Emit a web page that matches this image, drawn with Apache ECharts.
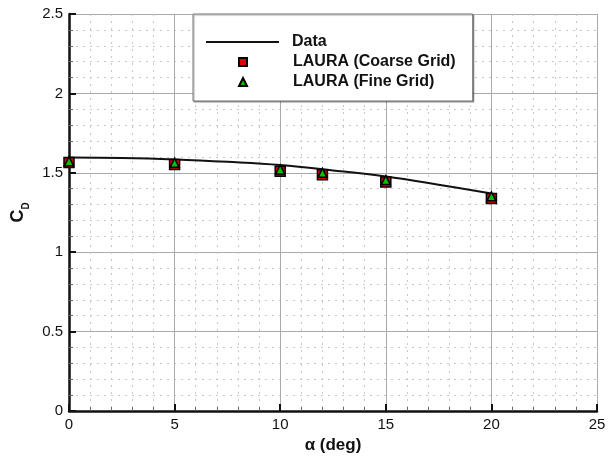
<!DOCTYPE html>
<html>
<head>
<meta charset="utf-8">
<style>html,body{margin:0;padding:0;background:#fff;}#c{width:613px;height:463px;}</style>
<script src="https://cdn.jsdelivr.net/npm/echarts@6/dist/echarts.min.js"></script>
</head>
<body>
<div id="c"></div>
<script>
const dataAlpha = [0, 2.5, 5, 7.5, 10, 12.5, 15, 17.5, 20];
const dataCD = [1.596, 1.593, 1.584, 1.569, 1.549, 1.515, 1.476, 1.425, 1.370];
const coarseAlpha = [0, 5, 10, 12, 15, 20];
const coarseCD = [1.565, 1.553, 1.510, 1.488, 1.442, 1.338];
const fineAlpha = [0, 5, 10, 12, 15, 20];
const fineCD = [1.573, 1.563, 1.521, 1.500, 1.454, 1.352];
const seriesNames = ['Data', 'LAURA (Coarse Grid)', 'LAURA (Fine Grid)'];

const zip = (a, b) => a.map((v, i) => [v, b[i]]);
const font = 'Liberation Sans, Arial, sans-serif';
const legendText = {fontFamily: font, fontWeight: 'bold', fontSize: 16, color: '#111'};

const chart = echarts.init(document.getElementById('c'), null, {renderer: 'canvas'});
chart.setOption({
  animation: false,
  backgroundColor: '#fff',
  grid: {left: 69, right: 16, top: 14, bottom: 52, containLabel: false},
  legend: [
    {
      data: [{name: seriesNames[1], icon: 'rect'}, {name: seriesNames[2], icon: 'triangle'}],
      orient: 'vertical',
      left: 193, top: 14,
      itemWidth: 8, itemHeight: 8, itemGap: 4,
      padding: [40, 17, 11, 45],
      backgroundColor: '#fff',
      borderColor: '#777', borderWidth: 1,
      shadowColor: 'rgba(0,0,0,0.35)', shadowOffsetX: 1, shadowOffsetY: 1, shadowBlur: 1,
      textStyle: Object.assign({}, legendText, {padding: [0, 0, 0, 41]}),
      z: 4
    },
    {
      data: [{name: seriesNames[0], icon: 'rect'}],
      orient: 'vertical',
      left: 193, top: 14,
      itemWidth: 73, itemHeight: 2,
      padding: [20, 0, 0, 13],
      textStyle: Object.assign({}, legendText, {padding: [0, 0, 0, 8]}),
      z: 5
    }
  ],
  xAxis: {
    type: 'value', min: 0, max: 25, interval: 5,
    name: 'α (deg)', nameLocation: 'middle', nameGap: 26,
    nameTextStyle: {fontFamily: font, fontWeight: 'bold', fontSize: 17, color: '#111'},
    axisLine: {show: true, onZero: false, lineStyle: {color: '#111', width: 2.5}},
    axisTick: {show: true, inside: true, length: 7, lineStyle: {color: '#111', width: 2}},
    minorTick: {show: true, splitNumber: 5, length: 4, lineStyle: {color: '#666', width: 1}},
    axisLabel: {fontFamily: font, fontSize: 15, color: '#111', margin: 6},
    splitLine: {show: true, lineStyle: {color: '#aaa', width: 1}},
    minorSplitLine: {show: true, lineStyle: {color: '#c8c8c8', width: 1, type: [2, 5]}}
  },
  yAxis: {
    type: 'value', min: 0, max: 2.5, interval: 0.5,
    name: '{c|C}{d|D}', nameLocation: 'middle', nameGap: 30, nameRotate: 90,
    nameTextStyle: {
      rich: {
        c: {fontFamily: font, fontWeight: 'bold', fontSize: 18, color: '#111'},
        d: {fontFamily: font, fontWeight: 'bold', fontSize: 10, color: '#111', verticalAlign: 'bottom', padding: [0, 0, -4, 0]}
      }
    },
    axisLine: {show: true, onZero: false, lineStyle: {color: '#111', width: 2.5}},
    axisTick: {show: true, inside: true, length: 7, lineStyle: {color: '#111', width: 2}},
    minorTick: {show: true, splitNumber: 5, length: 4, lineStyle: {color: '#666', width: 1}},
    axisLabel: {fontFamily: font, fontSize: 15, color: '#111', margin: 6},
    splitLine: {show: true, lineStyle: {color: '#aaa', width: 1}},
    minorSplitLine: {show: true, lineStyle: {color: '#c8c8c8', width: 1, type: [2, 5]}}
  },
  series: [
    {
      name: seriesNames[0], type: 'line', smooth: 0.4, symbol: 'none',
      data: zip(dataAlpha, dataCD),
      lineStyle: {color: '#111', width: 2}, itemStyle: {color: '#111'}, z: 3
    },
    {
      name: seriesNames[1], type: 'scatter', symbol: 'rect', symbolSize: 10,
      data: zip(coarseAlpha, coarseCD),
      itemStyle: {color: '#dd0000', borderColor: '#000', borderWidth: 1.5, opacity: 1}, z: 4
    },
    {
      name: seriesNames[2], type: 'scatter', symbol: 'triangle', symbolSize: 9,
      data: zip(fineAlpha, fineCD),
      itemStyle: {color: '#00c000', borderColor: '#000', borderWidth: 1.5, opacity: 1}, z: 5
    }
  ]
});
</script>
</body>
</html>
